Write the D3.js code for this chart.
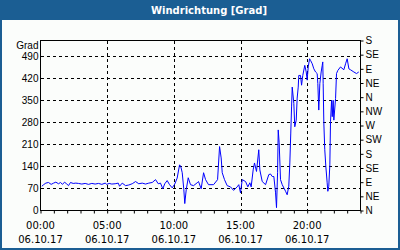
<!DOCTYPE html>
<html lang="de">
<head>
<meta charset="UTF-8">
<title>Windrichtung [Grad]</title>
<script src="https://d3js.org/d3.v7.min.js"></script>
<style>
  body { margin: 0; }
  svg { display: block; font-family: "DejaVu Sans", Verdana, sans-serif; }
</style>
</head>
<body>
<div id="chart"></div>
<script>
// hours since 00:00 on 06.10.17
const hours = [
  0.10, 0.23, 0.40, 0.60, 0.80, 0.98, 1.15, 1.35, 1.50, 1.65, 1.80, 1.95, 2.10, 2.25,
  2.45, 2.65, 2.85, 3.10, 3.35, 3.60, 3.85, 4.10, 4.35, 4.60, 4.85, 4.97, 5.15, 5.35,
  5.60, 5.83, 5.93, 6.13, 6.38, 6.62, 6.88, 7.13, 7.37, 7.63, 7.88, 8.12, 8.38, 8.63,
  8.83, 9.00, 9.17, 9.32, 9.50, 9.68, 9.88, 10.07, 10.25, 10.43, 10.52, 10.63, 10.75,
  10.82, 10.93, 11.08, 11.25, 11.48, 11.75, 11.85, 12.05, 12.23, 12.38, 12.60, 12.98,
  13.28, 13.43, 13.55, 13.63, 13.80, 14.00, 14.25, 14.48, 14.75, 14.87, 15.00, 15.13,
  15.38, 15.55, 15.70, 15.80, 15.95, 16.05, 16.20, 16.37, 16.45, 16.63, 16.88, 17.12,
  17.25, 17.38, 17.50, 17.63, 17.70, 17.78, 17.83, 17.90, 18.00, 18.13, 18.38, 18.50,
  18.62, 18.70, 18.77, 18.83, 18.88, 19.00, 19.07, 19.18, 19.25, 19.33, 19.37, 19.50,
  19.58, 19.67, 19.82, 19.93, 20.00, 20.08, 20.18, 20.25, 20.38, 20.50, 20.63, 20.75,
  20.80, 20.87, 20.95, 21.05, 21.13, 21.17, 21.20, 21.25, 21.32, 21.40, 21.50, 21.55,
  21.62, 21.70, 21.75, 21.83, 21.88, 21.95, 22.00, 22.13, 22.20, 22.30, 22.50, 22.75,
  22.88, 23.00, 23.13, 23.25, 23.50, 23.70, 23.87
];
// wind direction in degrees (values above 360 continue the scale)
const grad = [
  77, 82, 87, 89, 83, 87, 90, 85, 89, 83, 90, 85, 79, 89,
  86, 87, 86, 84, 86, 83, 86, 84, 86, 83, 87, 83, 86, 84,
  85, 87, 77, 87, 79, 81, 85, 92, 85, 87, 84, 87, 89, 98,
  85, 87, 69, 85, 95, 82, 72, 84, 103, 145, 140, 120, 66,
  22, 66, 104, 82, 79, 88, 92, 69, 120, 98, 82, 82,
  98, 203, 167, 120, 98, 79, 75, 64, 75, 82, 56, 98,
  92, 75, 88, 75, 129, 151, 124, 193, 129, 92, 82, 114,
  116, 108, 108, 56, 9, 120, 256, 215, 98, 82, 61, 50,
  77, 151, 246, 329, 392, 340, 266, 287, 357, 392, 429, 429,
  398, 429, 461, 440, 414, 456, 482, 477, 466, 450, 440, 435,
  403, 319, 403, 440, 461, 472, 404, 278, 193, 140, 88, 61,
  77, 145, 282, 350, 298, 350, 287, 356, 435, 445, 456, 447,
  466, 482, 450, 447, 440, 435, 440
];

const leftTicks = [0, 70, 140, 210, 280, 350, 420, 490];
const rightTicks = [0, 45, 90, 135, 180, 225, 270, 315, 360, 405, 450, 495, 540];
const rightLabels = ["N", "NE", "E", "SE", "S", "SW", "W", "NW", "N", "NE", "E", "SE", "S"];
const timeTicks = [0, 5, 10, 15, 20];
const timeLabels = ["00:00", "05:00", "10:00", "15:00", "20:00"];
const dateLabel = "06.10.17";

const W = 400, H = 250;
const blue = "#1b5e93";

const svg = d3.select("#chart").append("svg")
  .attr("width", W).attr("height", H);

// frame and title bar
svg.append("rect").attr("x", 1).attr("y", 1).attr("width", W - 2).attr("height", H - 2)
  .attr("fill", "#fbfdfb").attr("stroke", blue).attr("stroke-width", 2);
svg.append("rect").attr("x", 0).attr("y", 0).attr("width", W).attr("height", 20)
  .attr("fill", blue);
svg.append("text")
  .attr("x", 209).attr("y", 14)
  .attr("text-anchor", "middle")
  .attr("fill", "#fff")
  .style("font-size", "10px").style("font-weight", "bold")
  .text("Windrichtung [Grad]");

const x = d3.scaleLinear().domain([0, 24]).range([40.5, 360.5]);
const y = d3.scaleLinear().domain([0, 540]).range([210.5, 40.5]);

// grid
const grid = svg.append("g")
  .attr("stroke", "#000").attr("stroke-dasharray", "3,3").attr("shape-rendering", "crispEdges");
grid.selectAll("line.h").data(leftTicks.slice(1)).join("line")
  .attr("x1", x(0)).attr("x2", x(24))
  .attr("y1", d => Math.round(y(d)) + 0.5).attr("y2", d => Math.round(y(d)) + 0.5);
grid.selectAll("line.v").data(timeTicks.slice(1)).join("line")
  .attr("x1", d => Math.round(x(d)) + 0.5).attr("x2", d => Math.round(x(d)) + 0.5)
  .attr("y1", y(540)).attr("y2", y(0));

// data line
const pts = hours.map((h, i) => [h, grad[i]]);
svg.append("path")
  .datum(pts)
  .attr("fill", "none")
  .attr("stroke", "#0000ff")
  .attr("stroke-width", 1)
  .attr("d", d3.line().x(d => x(d[0])).y(d => y(d[1])));

// plot box
svg.append("rect")
  .attr("x", x(0)).attr("y", y(540))
  .attr("width", x(24) - x(0)).attr("height", y(0) - y(540))
  .attr("fill", "none").attr("stroke", "#000").attr("shape-rendering", "crispEdges");

// left axis
const left = svg.append("g")
  .attr("transform", `translate(${x(0)},0)`)
  .call(d3.axisLeft(y).tickValues(leftTicks).tickSize(0).tickPadding(2));
left.select(".domain").remove();
left.selectAll("text").style("font-size", "10px").attr("fill", "#000")
  .attr("font-family", null);
left.append("text")
  .attr("x", -2).attr("y", 49)
  .attr("text-anchor", "end").attr("fill", "#000")
  .style("font-size", "10px")
  .text("Grad");

// right axis
const right = svg.append("g")
  .attr("transform", `translate(${x(24)},0)`)
  .call(d3.axisRight(y).tickValues(rightTicks).tickSize(3).tickPadding(2)
    .tickFormat((d, i) => rightLabels[i]));
right.select(".domain").remove();
right.selectAll("text").style("font-size", "10px").attr("fill", "#000")
  .attr("font-family", null);

// bottom axis: hourly ticks
const bottom = svg.append("g")
  .attr("transform", `translate(0,${y(0)})`)
  .call(d3.axisBottom(x).tickValues(d3.range(0, 25)).tickSize(3).tickFormat(""));
bottom.select(".domain").remove();

const tl = svg.append("g").style("font-size", "10px").attr("fill", "#000")
  .attr("text-anchor", "middle");
tl.selectAll("text.t").data(timeTicks).join("text")
  .attr("x", d => x(d)).attr("y", 229)
  .text((d, i) => timeLabels[i]);
tl.selectAll("text.d").data(timeTicks).join("text")
  .attr("x", d => x(d)).attr("y", 243)
  .text(dateLabel);
</script>
</body>
</html>
